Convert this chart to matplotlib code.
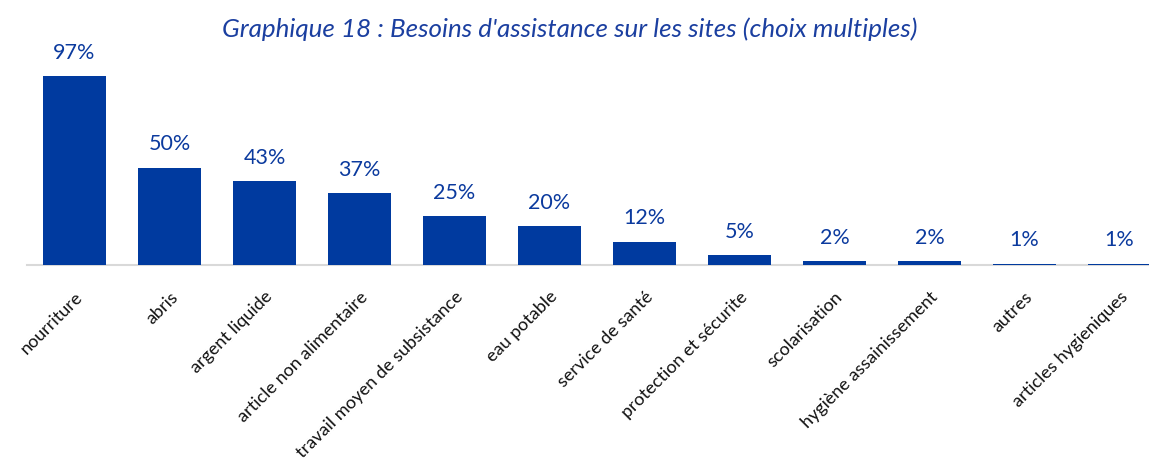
import matplotlib
matplotlib.use("Agg")
import matplotlib.pyplot as plt

categories = ["nourriture", "abris", "argent liquide", "article non alimentaire",
              "travail moyen de subsistance", "eau potable", "service de santé",
              "protection et sécurite", "scolarisation", "hygiène assainissement",
              "autres", "articles hygieniques"]
values = [97, 50, 43, 37, 25, 20, 12, 5, 2, 2, 1, 1]
labels = ["97%", "50%", "43%", "37%", "25%", "20%", "12%", "5%", "2%", "2%", "1%", "1%"]
bar_heights = [97, 50, 43, 37, 25, 20, 12, 5, 2, 2, 0.6, 0.6]

plt.rcParams['font.family'] = ['Lato', 'DejaVu Sans']

W, H = 1149, 466
fig = plt.figure(figsize=(W / 100, H / 100), dpi=100)
ax_left, ax_right = 27, 27 + 12 * 95
base_y = 265
ax = fig.add_axes([ax_left / W, (H - base_y) / H, (ax_right - ax_left) / W, 1.95 * 110 / H])

bar_color = "#003A9F"
text_color = "#0B3A9E"
x = list(range(len(categories)))
ax.bar(x, bar_heights, width=63 / 95, color=bar_color, zorder=3)
for xi, v, lab in zip(x, values, labels):
    ax.annotate(lab, (xi, v), xytext=(0, 9.5), textcoords="offset points",
                ha="center", va="bottom", fontsize=15.5, color=text_color)

ax.set_xlim(-0.5, 11.5)
ax.set_ylim(0, 110)
ax.set_yticks([])
ax.set_xticks(x)
ax.set_xticklabels(categories, rotation=45, ha="right", rotation_mode="anchor",
                   fontsize=13, color="#111111")
ax.tick_params(axis="x", length=0, pad=17)
for s in ["top", "right", "left"]:
    ax.spines[s].set_visible(False)
ax.spines["bottom"].set_color("#D9D9D9")
ax.spines["bottom"].set_linewidth(1.5)
ax.set_facecolor("none")

fig.text(570 / W, 1 - 29 / H, "Graphique 18 : Besoins d'assistance sur les sites (choix multiples)",
         ha="center", va="center", fontsize=18.7, style="italic", color="#1B3FA0")

fig.savefig("out.png", dpi=100)
